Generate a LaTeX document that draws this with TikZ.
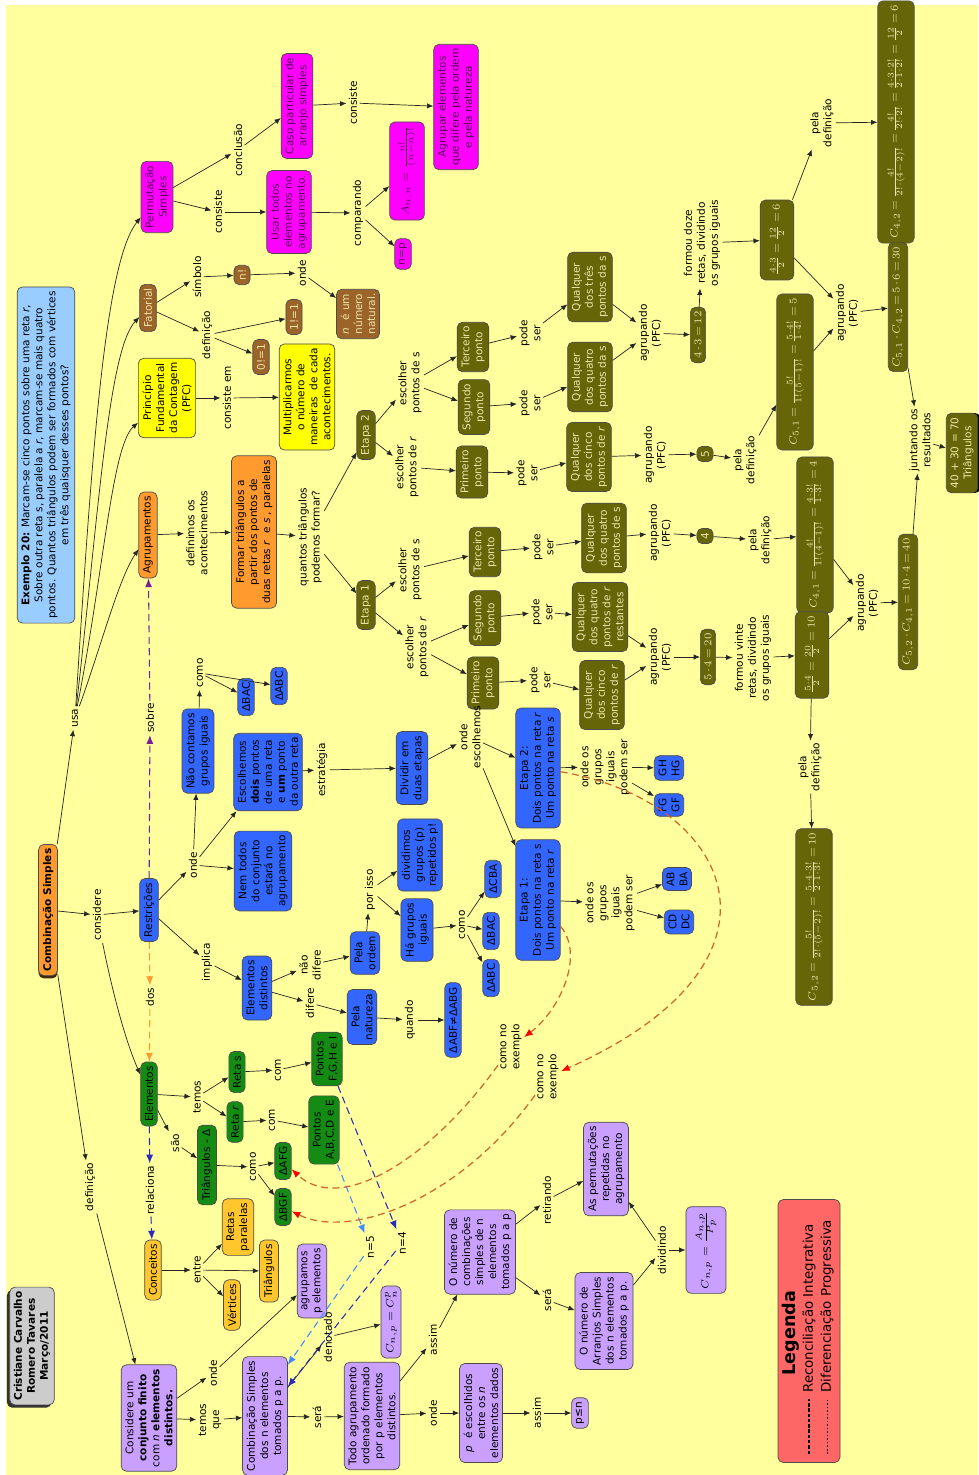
\RequirePackage{fix-cm}
\documentclass[tikz,border=0pt]{standalone}
\usepackage{fontspec}
\setmainfont{DejaVu Sans}
\usepackage{amsmath}
\usetikzlibrary{arrows.meta,shadows}

\newcommand{\mapfont}{\fontsize{6}{7.4}\selectfont}

\definecolor{mapbg}{HTML}{FFFF9E}
\definecolor{cOrange}{HTML}{FF9A2E}
\definecolor{cBlue}{HTML}{3366FF}
\definecolor{cMagenta}{HTML}{FF00FF}
\definecolor{cMagText}{HTML}{5A005A}
\definecolor{cYellow}{HTML}{FFFF00}
\definecolor{cBrown}{HTML}{9C6428}
\definecolor{cOlive}{HTML}{666608}
\definecolor{cOliveText}{HTML}{EAE4A8}
\definecolor{cGreen}{HTML}{148C14}
\definecolor{cGold}{HTML}{FFC62E}
\definecolor{cLilac}{HTML}{C9A0FF}
\definecolor{cSky}{HTML}{99CCFF}
\definecolor{cGrey}{HTML}{CCCCCC}
\definecolor{cRed}{HTML}{FF6666}
\definecolor{cRust}{HTML}{D2642A}
\definecolor{cPurple}{HTML}{7A1E9E}
\definecolor{cLightBlue}{HTML}{3D8BFF}
\definecolor{cDarkBlue}{HTML}{2B2BB8}

\tikzset{
  cbox/.style={rotate=90, draw=black!70, rounded corners=3pt, align=center, inner sep=2.4pt, font=\mapfont},
  orangebox/.style={cbox, fill=cOrange},
  bluebox/.style={cbox, fill=cBlue},
  magbox/.style={cbox, fill=cMagenta, text=cMagText},
  yelbox/.style={cbox, fill=cYellow},
  brownbox/.style={cbox, fill=cBrown, text=cOliveText},
  olivebox/.style={cbox, fill=cOlive, text=cOliveText},
  formula/.style={olivebox, execute at begin node={\thickmuskip=3mu\medmuskip=2mu}},
  fracbox/.style={formula, inner ysep=5.5pt},
  greenbox/.style={cbox, fill=cGreen},
  goldbox/.style={cbox, fill=cGold},
  lilacbox/.style={cbox, fill=cLilac},
  skybox/.style={cbox, fill=cSky},
  lbl/.style={rotate=90, align=center, inner sep=1.2pt, font=\mapfont},
  lk/.style={-{Latex[length=3.6pt,width=3pt]}, black!85},
  rdash/.style={draw=cRust, line width=0.7pt, dash pattern=on 4pt off 2.5pt, -{Latex[length=5pt,width=4pt,red]}},
  pdash/.style={draw=cPurple, line width=0.6pt, dash pattern=on 4pt off 2.5pt, -{Latex[length=5pt,width=4pt]}},
  odash/.style={draw=cOrange, line width=0.6pt, dash pattern=on 4pt off 2.5pt, -{Latex[length=5pt,width=4pt]}},
  bdash/.style={draw=cDarkBlue, line width=0.6pt, dash pattern=on 4pt off 2.5pt, -{Latex[length=5pt,width=4pt]}},
  lbdash/.style={draw=cLightBlue, line width=0.6pt, dash pattern=on 4pt off 2.5pt, -{Latex[length=5pt,width=4pt]}}
}

\begin{document}
\begin{tikzpicture}[x=0.02cm, y=-0.02cm]
\fill[white] (0,0) rectangle (978,1475);
\fill[mapbg] (6,5) rectangle (978,1475);
\useasboundingbox (0,0) rectangle (978,1475);

\node[skybox] (exemplo) at (46,455) {\textbf{Exemplo 20:} Marcam-se cinco pontos sobre uma reta \textit{r},\\Sobre outra reta s, paralela a \textit{r}, marcam-se mais quatro\\pontos. Quantos triângulos podem ser formados com vértices\\em três quaisquer desses pontos?};
\node[cbox, fill=cGrey, font=\mapfont\bfseries, drop shadow={shadow xshift=-1.6pt, shadow yshift=-1.6pt, fill=black!80, opacity=1}] (autores) at (32,1346) {Cristiane Carvalho\\Romero Tavares\\Março/2011};
\node[orangebox, font=\mapfont\bfseries, drop shadow={shadow xshift=0pt, shadow yshift=-1.6pt, fill=black!60!cBrown, opacity=1}] (comb) at (48,910) {Combinação Simples};

\node[magbox] (perm) at (157,197) {Permutação\\Simples};
\node[magbox] (caso) at (297,106) {Caso particular de\\arranjo simples};
\node[magbox] (usar) at (289,212) {Usar todos\\elementos no\\agrupamento.};
\node[magbox] (agrupar) at (456,107) {Agrupar elementos\\que difere pela ordem\\e pela natureza};
\node[magbox, inner ysep=5pt] (ann) at (407,171) {$A_{n,n}=\frac{n!}{(n-n)!}$};
\node[magbox] (neqp) at (403,254) {n=p};
\node[lbl] (lConclusao) at (238,150) {conclusão};
\node[lbl] (lConsiste) at (218,212) {consiste};
\node[lbl] (lConsiste2) at (353,103) {consiste};
\node[lbl] (lComparando) at (358,213) {comparando};

\node[brownbox] (fat) at (148,308) {Fatorial};
\node[brownbox] (nfat) at (242,275) {n!};
\node[brownbox] (natural) at (358,314) {\textit{n}\ \ é um\\número\\natural.};
\node[brownbox] (um) at (294,317) {1!=1};
\node[brownbox] (zero) at (261,357) {0!=1};
\node[lbl] (lSimbolo) at (197,277) {símbolo};
\node[lbl] (lOnde1) at (302,273) {onde};
\node[lbl] (lDef1) at (207,335) {definição};

\node[yelbox] (pfc) at (167,398) {Princípio\\Fundamental\\da Contagem\\(PFC)};
\node[yelbox] (mult) at (307,397) {Multiplicarmos\\o número de\\maneiras\ \ de cada\\acontecimentos.};
\node[lbl] (lConsisteEm) at (227,398) {consiste em};

\node[orangebox] (agrup) at (148,535) {Agrupamentos};
\node[orangebox] (formar) at (254,532) {Formar triângulos a\\partir dos pontos de\\duas retas \textit{r}\ \ e \textit{s} , paralelas};
\node[lbl] (lUsa) at (75,718) {usa};
\node[lbl] (lDefinimos) at (197,533) {definimos os\\acontecimentos};
\node[lbl] (lQuantos) at (310,537) {quantos triângulos\\podemos formar?};

\node[olivebox] (etapaB) at (366,435) {Etapa 2};
\node[lbl] (lEscSB) at (410,383) {escolher\\pontos de s};
\node[lbl] (lEscRB) at (407,467) {escolher\\pontos de \textit{r}};
\node[olivebox] (terB) at (473,347) {Terceiro\\ponto};
\node[olivebox] (segB) at (474,407) {Segundo\\ponto};
\node[olivebox] (priB) at (472,472) {Primeiro\\ponto};
\node[lbl] (lPodeB3) at (530,333) {pode\\ser};
\node[lbl] (lPodeB2) at (530,403) {pode\\ser};
\node[lbl] (lPodeB1) at (527,473) {pode\\ser};
\node[olivebox] (qTresS) at (590,287) {Qualquer\\dos três\\pontos da s};
\node[olivebox] (qQuatroS) at (590,377) {Qualquer\\dos quatro\\pontos da s};
\node[olivebox] (qCincoRB) at (589,457) {Qualquer\\dos cinco\\pontos de \textit{r}};
\node[lbl] (lAgrB1) at (650,333) {agrupando\\(PFC)};
\node[lbl] (lAgrB2) at (655,455) {agrupando\\(PFC)};
\node[formula] (doze) at (698,335) {$4\cdot3=12$};
\node[lbl] (lDoze) at (702,243) {formou doze\\retas, dividindo\\os grupos iguais};
\node[fracbox] (seis) at (777,240) {$\frac{4\cdot3}{2}=\frac{12}{2}=6$};
\node[lbl] (lPelaDef1) at (822,123) {pela\\definição};
\node[fracbox] (cQuatroDois) at (896,122) {$C_{4,2}=\frac{4!}{2!\cdot(4-2)!}=\frac{4!}{2!\cdot2!}=\frac{4\cdot3\cdot2!}{2\cdot1\cdot2!}=\frac{12}{2}=6$};
\node[olivebox] (cinco) at (705,454) {5};
\node[lbl] (lPelaDef2) at (745,460) {pela\\definição};
\node[fracbox] (cCincoUm) at (795,372) {$C_{5,1}=\frac{5!}{1!(5-1)!}=\frac{5\cdot4!}{1\cdot4!}=5$};
\node[lbl] (lAgrB3) at (847,313) {agrupando\\(PFC)};
\node[formula] (trinta) at (898,307) {$C_{5,1}\cdot C_{4,2}=5\cdot6=30$};
\node[lbl] (lJuntando) at (920,440) {juntando os\\resultados};
\node[olivebox, drop shadow={shadow xshift=1.6pt, shadow yshift=0pt, fill=black, opacity=1}] (total) at (962,453) {40 + 30 = 70\\Triângulos};

\node[olivebox] (etapaA) at (366,605) {Etapa 1};
\node[lbl] (lEscSA) at (410,570) {escolher\\pontos de s};
\node[lbl] (lEscRA) at (417,647) {escolher\\pontos de \textit{r}};
\node[olivebox] (terA) at (485,552) {Terceiro\\ponto};
\node[olivebox] (segA) at (485,618) {Segundo\\ponto};
\node[olivebox] (priA) at (483,683) {Primeiro\\ponto};
\node[lbl] (lPodeA3) at (543,547) {pode\\ser};
\node[lbl] (lPodeA2) at (542,612) {pode\\ser};
\node[lbl] (lPodeA1) at (540,680) {pode\\ser};
\node[olivebox] (qQuatroSA) at (604,538) {Qualquer\\dos quatro\\pontos de s};
\node[olivebox] (qQuatroR) at (600,617) {Qualquer\\dos quatro\\pontos de \textit{r}\\restantes};
\node[olivebox] (qCincoRA) at (602,695) {Qualquer\\dos cinco\\pontos de \textit{r}};
\node[lbl] (lAgrA1) at (660,533) {agrupando\\(PFC)};
\node[lbl] (lAgrA2) at (660,657) {agrupando\\(PFC)};
\node[olivebox] (quatro) at (705,536) {4};
\node[lbl] (lPelaDef3) at (760,540) {pela\\definição};
\node[fracbox] (cQuatroUm) at (815,535) {$C_{4,1}=\frac{4!}{1!(4-1)!}=\frac{4\cdot3!}{1\cdot3!}=4$};
\node[formula] (vinte) at (708,657) {$5\cdot4=20$};
\node[lbl] (lVinte) at (753,658) {formou vinte\\retas, dividindo\\os grupos iguais};
\node[fracbox] (dez) at (812,655) {$\frac{5\cdot4}{2}=\frac{20}{2}=10$};
\node[lbl] (lAgrA3) at (867,603) {agrupando\\(PFC)};
\node[formula] (quarenta) at (908,602) {$C_{5,2}\cdot C_{4,1}=10\cdot4=40$};
\node[lbl] (lPelaDef4) at (810,767) {pela\\definição};
\node[fracbox] (cCincoDois) at (814,917) {$C_{5,2}=\frac{5!}{2!\cdot(5-2)!}=\frac{5\cdot4\cdot3!}{2\cdot1\cdot3!}=10$};

\node[lbl] (lConsidere) at (97,915) {considere};
\node[lbl] (lDefinicao) at (90,1187) {definição};
\node[bluebox] (restr) at (149,910) {Restrições};
\node[lbl] (lSobre) at (150,718) {sobre};
\node[lbl] (lDos) at (150,997) {dos};
\node[lbl] (lOndeR) at (193,865) {onde};
\node[bluebox] (naoConta) at (198,751) {Não contamos\\grupos iguais};
\node[lbl] (lComo1) at (200,673) {como};
\node[bluebox] (tBAC) at (246,697) {ΔBAC};
\node[bluebox] (tABC1) at (279,686) {ΔABC};
\node[bluebox] (escolhemos) at (268,772) {Escolhemos\\\textbf{dois} pontos\\de uma reta\\e \textbf{um} ponto\\da outra reta};
\node[bluebox] (nemTodos) at (263,871) {Nem todos\\do conjunto\\estará no\\agrupamento};
\node[lbl] (lEstrategia) at (322,770) {estratégia};
\node[bluebox] (dividir) at (412,768) {Dividir em\\duas etapas};
\node[lbl] (lOndeEsc) at (470,737) {onde\\escolhemos};
\node[bluebox] (etapaDois) at (538,768) {Etapa 2:\\Dois pontos na reta \textit{r}\\Um ponto na reta \textit{s}};
\node[bluebox] (etapaUm) at (538,900) {Etapa 1:\\Dois pontos na reta s\\Um ponto na reta \textit{r}};
\node[lbl] (lGruposB) at (605,767) {onde os\\grupos\\iguais\\podem ser};
\node[lbl] (lGruposA) at (610,903) {onde os\\grupos\\iguais\\podem ser};
\node[bluebox] (gh) at (669,768) {GH\\HG};
\node[bluebox] (fg) at (669,805) {FG\\GF};
\node[bluebox] (ab) at (677,879) {AB\\BA};
\node[bluebox] (cd) at (679,922) {CD\\DC};
\node[lbl] (lImplica) at (207,962) {implica};
\node[bluebox] (distintos) at (257,988) {Elementos\\distintos};
\node[lbl] (lNaoDifere) at (310,965) {não\\difere};
\node[lbl] (lDifere) at (310,1003) {difere};
\node[bluebox] (pelaOrdem) at (365,953) {Pela\\ordem};
\node[lbl] (lPorIsso) at (370,890) {por isso};
\node[bluebox] (dividimos) at (420,855) {dividimos\\grupos (p)\\repetidos p!};
\node[bluebox] (haGrupos) at (417,930) {Há grupos\\iguais};
\node[lbl] (lComo2) at (462,925) {como};
\node[bluebox] (tABC2) at (491,978) {ΔABC};
\node[bluebox] (tBAC2) at (491,931) {ΔBAC};
\node[bluebox] (tCBA) at (493,879) {ΔCBA};
\node[bluebox] (pelaNat) at (362,1017) {Pela\\natureza};
\node[lbl] (lQuando) at (410,1020) {quando};
\node[bluebox] (diferentes) at (453,1020) {ΔABF≠ΔABG};

\node[greenbox] (elem) at (149,1094) {Elementos};
\node[lbl] (lRelaciona) at (150,1190) {relaciona};
\node[goldbox] (conceitos) at (153,1270) {Conceitos};
\node[lbl] (lTemos) at (197,1097) {temos};
\node[greenbox] (retaS) at (237,1072) {Reta s};
\node[greenbox] (retaR) at (235,1122) {Reta \textit{r}};
\node[lbl] (lSao) at (175,1143) {são};
\node[greenbox] (triang) at (207,1165) {Triângulos - Δ};
\node[lbl] (lComS) at (278,1070) {com};
\node[lbl] (lComR) at (272,1120) {com};
\node[greenbox] (pontosFI) at (327,1059) {Pontos\\F,G,H e I};
\node[greenbox] (pontosAE) at (324,1130) {Pontos\\A,B,C,D e E};
\node[lbl] (lComo3) at (253,1167) {como};
\node[greenbox] (tAFG) at (283,1161) {ΔAFG};
\node[greenbox] (tBGF) at (283,1207) {ΔBGF};
\node[lbl] (lEntre) at (197,1270) {entre};
\node[goldbox] (retasPar) at (238,1227) {Retas\\paralelas};
\node[goldbox] (vertices) at (232,1305) {Vértices};
\node[goldbox] (triangulos) at (269,1271) {Triângulos};

\node[lilacbox] (considere) at (149,1418) {Considere um\\\textbf{conjunto finito}\\com \textit{n} \textbf{elementos}\\\textbf{distintos.}};
\node[lilacbox] (agrupamos) at (312,1281) {agrupamos\\p elementos};
\node[lbl] (lOndeC) at (213,1373) {onde};
\node[lbl] (lTemosQue) at (210,1420) {temos\\que};
\node[lilacbox] (combN) at (265,1416) {Combinação Simples\\dos n elementos\\tomados p a p.};
\node[lbl] (lSera1) at (317,1417) {será};
\node[lbl] (lDenotado) at (328,1337) {denotado};
\node[lilacbox] (cnp) at (391,1322) {$C_{n,p}=C_n^p$};
\node[lilacbox] (todo) at (372,1416) {Todo agrupamento\\ordenado formado\\por p elementos\\distintos.};
\node[lbl] (lAssim1) at (433,1340) {assim};
\node[lilacbox] (numComb) at (480,1252) {O número de\\combinações\\simples de n\\elementos\\tomados p a p};
\node[lbl] (lOnde2) at (433,1413) {onde};
\node[lilacbox] (pEsc) at (481,1413) {\textit{p}\ \ é escolhidos\\entre os \textit{n}\\elementos dados};
\node[lbl] (lAssim2) at (537,1413) {assim};
\node[lilacbox] (pMenor) at (580,1413) {p≤n};
\node[lbl] (lRetirando) at (547,1200) {retirando};
\node[lbl] (lSera2) at (547,1300) {será};
\node[lilacbox] (perms) at (606,1169) {As permutações\\repetidas no\\agrupamento};
\node[lilacbox] (arranjos) at (604,1321) {O número de\\Arranjos Simples\\dos n elementos\\tomados p a p.};
\node[lbl] (lDividindo) at (662,1250) {dividindo};
\node[lilacbox, inner ysep=5.5pt] (cAP) at (706,1250) {$C_{n,p}=\frac{A_{n,p}}{P_p}$};
\node[lbl] (lCne1) at (511,1047) {como no\\exemplo};
\node[lbl] (lCne2) at (548,1077) {como no\\exemplo};
\node[lbl] (lN5) at (370,1247) {n=5};
\node[lbl] (lN4) at (402,1243) {n=4};

\node[cbox, fill=cRed, minimum width=5.26cm, minimum height=1.24cm] (legenda) at (809,1331) {};
\node[rotate=90, font=\fontsize{10}{12}\selectfont\bfseries] (lgTitulo) at (791,1333) {Legenda};
\node[rotate=90, anchor=west, inner sep=0pt, font=\fontsize{7.6}{9}\selectfont] (lgRec) at (809,1393) {Reconciliação Integrativa};
\node[rotate=90, anchor=west, inner sep=0pt, font=\fontsize{7.6}{9}\selectfont] (lgDif) at (827,1393) {Diferenciação Progressiva};
\draw[black, line width=0.6pt, dash pattern=on 2pt off 1pt] (809,1454) -- (809,1399);
\draw[black, line width=0.4pt, dash pattern=on 1pt off 1pt] (827,1454) -- (827,1399);

\draw[lk] (comb) -- (lUsa);
\draw[lk] (lUsa) .. controls (92,450) and (105,262) .. (perm);
\draw[lk] (lUsa) .. controls (98,520) and (108,350) .. (fat);
\draw[lk] (lUsa) .. controls (104,570) and (112,445) .. (pfc);
\draw[lk] (lUsa) .. controls (100,650) and (118,580) .. (agrup);
\draw[lk] (comb) -- (lConsidere);
\draw[lk] (lConsidere) -- (restr);
\draw[lk] (lConsidere) .. controls (112,990) and (125,1040) .. (elem);
\draw[lk] (comb) -- (lDefinicao);
\draw[lk] (lDefinicao) -- (considere);

\draw[lk] (perm) -- (lConsiste);
\draw[lk] (lConsiste) -- (usar);
\draw[lk] (perm) -- (lConclusao);
\draw[lk] (lConclusao) -- (caso);
\draw[lk] (caso) -- (lConsiste2);
\draw[lk] (lConsiste2) -- (agrupar);
\draw[lk] (usar) -- (lComparando);
\draw[lk] (lComparando) -- (ann);
\draw[lk] (lComparando) -- (neqp);
\draw[lk] (fat) -- (lSimbolo);
\draw[lk] (lSimbolo) -- (nfat);
\draw[lk] (nfat) -- (lOnde1);
\draw[lk] (lOnde1) -- (natural);
\draw[lk] (fat) -- (lDef1);
\draw[lk] (lDef1) -- (um);
\draw[lk] (lDef1) -- (zero);
\draw[lk] (pfc) -- (lConsisteEm);
\draw[lk] (lConsisteEm) -- (mult);

\draw[lk] (agrup) -- (lDefinimos);
\draw[lk] (lDefinimos) -- (formar);
\draw[lk] (formar) -- (lQuantos);
\draw[lk] (lQuantos) -- (etapaB);
\draw[lk] (lQuantos) -- (etapaA);
\draw[lk] (etapaB) -- (lEscSB);
\draw[lk] (etapaB) -- (lEscRB);
\draw[lk] (lEscSB) -- (segB);
\draw[lk] (lEscSB) -- (terB);
\draw[lk] (lEscRB) -- (priB);
\draw[lk] (terB) -- (lPodeB3);
\draw[lk] (segB) -- (lPodeB2);
\draw[lk] (priB) -- (lPodeB1);
\draw[lk] (lPodeB3) -- (qTresS);
\draw[lk] (lPodeB2) -- (qQuatroS);
\draw[lk] (lPodeB1) -- (qCincoRB);
\draw[lk] (qTresS) -- (lAgrB1);
\draw[lk] (qQuatroS) -- (lAgrB1);
\draw[lk] (lAgrB1) -- (doze);
\draw[lk] (doze) -- (lDoze);
\draw[lk] (lDoze) -- (seis);
\draw[lk] (seis) -- (lPelaDef1);
\draw[lk] (lPelaDef1) -- (cQuatroDois);
\draw[lk] (seis) -- (lAgrB3);
\draw[lk] (qCincoRB) -- (lAgrB2);
\draw[lk] (lAgrB2) -- (cinco);
\draw[lk] (cinco) -- (lPelaDef2);
\draw[lk] (lPelaDef2) -- (cCincoUm);
\draw[lk] (cCincoUm) -- (lAgrB3);
\draw[lk] (lAgrB3) -- (trinta);
\draw[lk] (trinta) -- (lJuntando);
\draw[lk] (lJuntando) -- (total);

\draw[lk] (etapaA) -- (lEscSA);
\draw[lk] (etapaA) -- (lEscRA);
\draw[lk] (lEscSA) -- (terA);
\draw[lk] (lEscRA) -- (segA);
\draw[lk] (lEscRA) -- (priA);
\draw[lk] (terA) -- (lPodeA3);
\draw[lk] (segA) -- (lPodeA2);
\draw[lk] (priA) -- (lPodeA1);
\draw[lk] (lPodeA3) -- (qQuatroSA);
\draw[lk] (lPodeA2) -- (qQuatroR);
\draw[lk] (lPodeA1) -- (qCincoRA);
\draw[lk] (qQuatroSA) -- (lAgrA1);
\draw[lk] (lAgrA1) -- (quatro);
\draw[lk] (quatro) -- (lPelaDef3);
\draw[lk] (lPelaDef3) -- (cQuatroUm);
\draw[lk] (cQuatroUm) -- (lAgrA3);
\draw[lk] (qQuatroR) -- (lAgrA2);
\draw[lk] (qCincoRA) -- (lAgrA2);
\draw[lk] (lAgrA2) -- (vinte);
\draw[lk] (vinte) -- (lVinte);
\draw[lk] (lVinte) -- (dez);
\draw[lk] (dez) -- (lAgrA3);
\draw[lk] (lAgrA3) -- (quarenta);
\draw[lk] (quarenta) -- (lJuntando);
\draw[lk] (dez) -- (lPelaDef4);
\draw[lk] (lPelaDef4) -- (cCincoDois);

\draw[lk] (restr) -- (lOndeR);
\draw[lk] (lOndeR) -- (naoConta);
\draw[lk] (lOndeR) -- (escolhemos);
\draw[lk] (lOndeR) -- (nemTodos);
\draw[lk] (naoConta) -- (lComo1);
\draw[lk] (lComo1) -- (tBAC);
\draw[lk] (lComo1) -- (tABC1);
\draw[lk] (escolhemos) -- (lEstrategia);
\draw[lk] (lEstrategia) -- (dividir);
\draw[lk] (dividir) -- (lOndeEsc);
\draw[lk] (lOndeEsc) -- (etapaDois);
\draw[lk] (lOndeEsc) -- (etapaUm);
\draw[lk] (etapaDois) -- (lGruposB);
\draw[lk] (lGruposB) -- (gh);
\draw[lk] (lGruposB) -- (fg);
\draw[lk] (etapaUm) -- (lGruposA);
\draw[lk] (lGruposA) -- (ab);
\draw[lk] (lGruposA) -- (cd);
\draw[lk] (restr) -- (lImplica);
\draw[lk] (lImplica) -- (distintos);
\draw[lk] (distintos) -- (lNaoDifere);
\draw[lk] (lNaoDifere) -- (pelaOrdem);
\draw[lk] (pelaOrdem) -- (lPorIsso);
\draw[lk] (lPorIsso) -- (dividimos);
\draw[lk] (lPorIsso) -- (haGrupos);
\draw[lk] (haGrupos) -- (lComo2);
\draw[lk] (lComo2) -- (tABC2);
\draw[lk] (lComo2) -- (tBAC2);
\draw[lk] (lComo2) -- (tCBA);
\draw[lk] (distintos) -- (lDifere);
\draw[lk] (lDifere) -- (pelaNat);
\draw[lk] (pelaNat) -- (lQuando);
\draw[lk] (lQuando) -- (diferentes);

\draw[lk] (elem) -- (lTemos);
\draw[lk] (lTemos) -- (retaS);
\draw[lk] (lTemos) -- (retaR);
\draw[lk] (retaS) -- (lComS);
\draw[lk] (lComS) -- (pontosFI);
\draw[lk] (retaR) -- (lComR);
\draw[lk] (lComR) -- (pontosAE);
\draw[lk] (elem) -- (lSao);
\draw[lk] (lSao) -- (triang);
\draw[lk] (triang) -- (lComo3);
\draw[lk] (lComo3) -- (tAFG);
\draw[lk] (lComo3) -- (tBGF);
\draw[lk] (conceitos) -- (lEntre);
\draw[lk] (lEntre) -- (retasPar);
\draw[lk] (lEntre) -- (vertices);
\draw[lk] (lEntre) -- (triangulos);

\draw[lk] (considere) -- (lOndeC);
\draw[lk] (lOndeC) -- (agrupamos);
\draw[lk] (considere) -- (lTemosQue);
\draw[lk] (lTemosQue) -- (combN);
\draw[lk] (combN) -- (lSera1);
\draw[lk] (lSera1) -- (todo);
\draw[lk] (combN) -- (lDenotado);
\draw[lk] (lDenotado) -- (cnp);
\draw[lk] (todo) -- (lAssim1);
\draw[lk] (lAssim1) -- (numComb);
\draw[lk] (todo) -- (lOnde2);
\draw[lk] (lOnde2) -- (pEsc);
\draw[lk] (pEsc) -- (lAssim2);
\draw[lk] (lAssim2) -- (pMenor);
\draw[lk] (numComb) -- (lRetirando);
\draw[lk] (lRetirando) -- (perms);
\draw[lk] (numComb) -- (lSera2);
\draw[lk] (lSera2) -- (arranjos);
\draw[lk] (arranjos) -- (lDividindo);
\draw[lk] (lDividindo) -- (perms);
\draw[lk] (lDividindo) -- (cAP);

\draw[pdash] (restr) -- (lSobre);
\draw[pdash] (lSobre) -- (agrup);
\draw[odash] (restr) -- (lDos);
\draw[odash] (lDos) -- (elem);
\draw[bdash] (elem) -- (lRelaciona);
\draw[bdash] (lRelaciona) -- (conceitos);
\draw[lbdash] (pontosAE) -- (lN5);
\draw[lbdash] (lN5) -- (combN.-24);
\draw[bdash] (pontosFI) -- (lN4);
\draw[bdash] (lN4) -- (combN.-38);
\draw[rdash] (etapaUm) .. controls (585,955) and (560,1010) .. (lCne1);
\draw[rdash] (lCne1) .. controls (430,1160) and (340,1215) .. (tAFG);
\draw[rdash] (etapaDois) .. controls (730,800) and (810,960) .. (lCne2);
\draw[rdash] (lCne2) .. controls (460,1200) and (350,1240) .. (tBGF);
\end{tikzpicture}
\end{document}
